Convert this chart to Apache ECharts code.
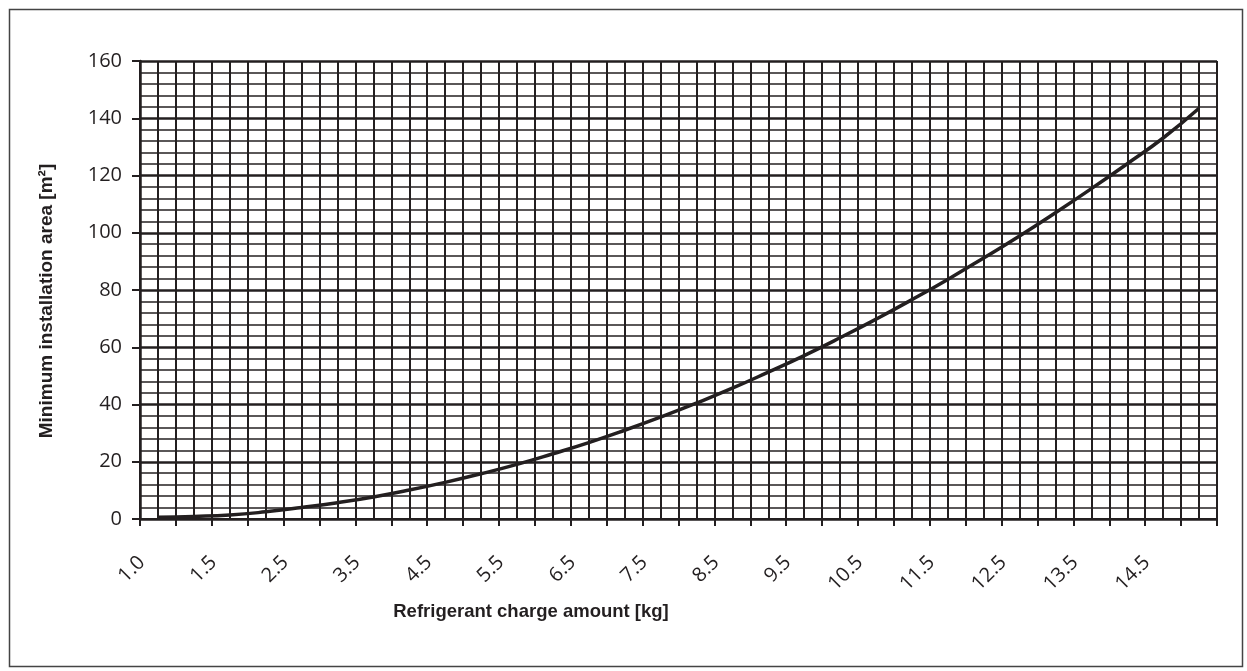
<!DOCTYPE html>
<html>
<head>
<meta charset="utf-8">
<script src="https://cdn.jsdelivr.net/npm/echarts@6/dist/echarts.min.js"></script>
<style>
html,body{margin:0;padding:0;background:#fff;}
#chart{width:1247px;height:671px;}
</style>
</head>
<body>
<div id="chart"></div>
<script>
// Refrigerant charge amount [kg] (categories)
var chargeKg = ['1.0','1.2','1.5','2.0','2.5','3.0','3.5','4.0','4.5','5.0','5.5','6.0','6.5','7.0','7.5','8.0','8.5','9.0','9.5','10.0','10.5','11.0','11.5','12.0','12.5','13.0','13.5','14.0','14.5','15.0'];
// Minimum installation area [m²]
var minArea = [0.6,0.9,1.4,2.5,4.0,5.7,7.7,10.1,12.8,15.8,19.1,22.8,26.7,31.0,35.6,40.5,45.7,51.3,57.1,63.3,69.8,76.6,83.7,91.2,98.9,107.0,115.4,124.1,133.1,143.5];
var yTicks = {min:0, max:160, step:20};
var xName = 'Refrigerant charge amount [kg]';
var yName = 'Minimum installation area [m²]';

var ink = '#231f20';
var chart = echarts.init(document.getElementById('chart'));
chart.setOption({
  animation:false,
  backgroundColor:'#fff',
  grid:{left:140, right:30, top:61, bottom:152, containLabel:false},
  graphic:[
    {type:'rect', left:7, top:7, shape:{width:1233, height:657}, style:{fill:'none', stroke:'#444', lineWidth:1.5}},
    {type:'text', x:531, y:612, style:{text:xName, font:'bold 18.5px "Liberation Sans", Arial, sans-serif', fill:ink, textAlign:'center', textVerticalAlign:'middle'}},
    {type:'text', x:47, y:301, rotation:Math.PI/2, style:{text:yName, font:'bold 19px "Liberation Sans", Arial, sans-serif', fill:ink, textAlign:'center', textVerticalAlign:'middle'}}
  ],
  xAxis:[
    {type:'category', data:chargeKg, boundaryGap:true,
     axisLine:{lineStyle:{color:ink, width:2}},
     axisTick:{show:true, interval:0, length:7, lineStyle:{color:ink, width:2}},
     axisLabel:{interval:1, rotate:45, margin:24, padding:[0,23,0,0], fontFamily:'"Open Sans", sans-serif', fontSize:20, color:ink},
     splitLine:{show:false}},
    {type:'value', min:0, max:60, interval:1, position:'bottom',
     axisLine:{show:false}, axisTick:{show:false}, axisLabel:{show:false},
     splitLine:{show:true, lineStyle:{color:ink, width:2}}}
  ],
  yAxis:{type:'value', min:yTicks.min, max:yTicks.max, interval:yTicks.step,
     axisLine:{show:true, lineStyle:{color:ink, width:2.5}},
     axisTick:{show:true, length:8, lineStyle:{color:ink, width:2}},
     axisLabel:{margin:18, fontFamily:'"Open Sans", sans-serif', fontSize:20, color:ink},
     splitLine:{show:true, lineStyle:{color:ink, width:2.5}},
     minorTick:{show:false, splitNumber:5},
     minorSplitLine:{show:true, lineStyle:{color:ink, width:1.6}}},
  series:[{type:'line', xAxisIndex:0, data:minArea, smooth:true, showSymbol:false,
     lineStyle:{color:ink, width:3.5}, z:5}]
});
</script>
</body>
</html>
